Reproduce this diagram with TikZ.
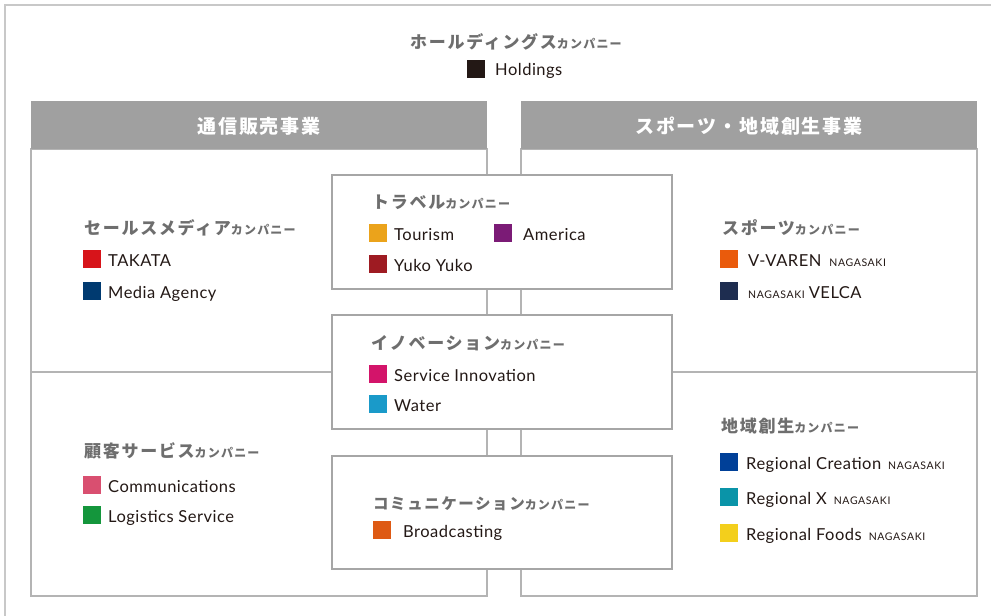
\documentclass[tikz,border=0pt]{standalone}
\usepackage{fontspec}
\setmainfont[LetterSpace=3]{Lato}
\newfontfamily\jp[LetterSpace=10]{Noto Sans CJK JP}
\newfontfamily\ngsfont[LetterSpace=6]{Lato}
\definecolor{framegray}{HTML}{C8C8C8}
\definecolor{panelgray}{HTML}{B4B4B4}
\definecolor{boxgray}{HTML}{A6A6A6}
\definecolor{headgray}{HTML}{A0A0A0}
\definecolor{jpgray}{HTML}{6E6E6E}
\definecolor{txtdark}{HTML}{231815}
\definecolor{cHold}{HTML}{231815}
\definecolor{cTakata}{HTML}{D7141A}
\definecolor{cMedia}{HTML}{003A70}
\definecolor{cTour}{HTML}{EBA31B}
\definecolor{cAmer}{HTML}{7B1B76}
\definecolor{cYuko}{HTML}{9E1B22}
\definecolor{cServ}{HTML}{D3146A}
\definecolor{cWater}{HTML}{1A9AC9}
\definecolor{cBroad}{HTML}{DE5A14}
\definecolor{cVaren}{HTML}{EA5B0C}
\definecolor{cVelca}{HTML}{1E2D50}
\definecolor{cComm}{HTML}{D94F70}
\definecolor{cLogi}{HTML}{14963C}
\definecolor{cRegC}{HTML}{004098}
\definecolor{cRegX}{HTML}{0A94A8}
\definecolor{cRegF}{HTML}{F3CF1C}
\newcommand{\jpt}[1]{{\jp\bfseries\fontsize{17}{20}\selectfont #1}}
\newcommand{\kp}{{\jp\bfseries\fontsize{12}{14}\selectfont カンパニー}}
\newcommand{\ngs}{{\ngsfont\fontsize{10.5}{12}\selectfont NAGASAKI}}
\begin{document}
\begin{tikzpicture}[x=1pt,y=-1pt,
  panel/.style={draw=panelgray, line width=1.5pt},
  cbox/.style={draw=boxgray, line width=2pt, fill=white},
  head/.style={fill=headgray},
  headtxt/.style={text=white, font=\jp\bfseries\fontsize{19}{22}\selectfont},
  sq/.style={minimum size=18pt, inner sep=0pt, outer sep=0pt, anchor=north west},
  lbl/.style={anchor=base west, inner sep=0pt, text=txtdark, font=\fontsize{16.5}{18}\selectfont},
  ttl/.style={anchor=west, inner sep=0pt, text=jpgray}]
\useasboundingbox (0,0) rectangle (991,616);
\fill[white] (0,0) rectangle (991,616);
% outer frame
\draw[framegray, line width=1.5pt] (5,620) -- (5,5) -- (995,5);
% holdings
\node[ttl, anchor=center] (holdT) at (516,42) {\jpt{ホールディングス}\kp};
\node[sq, fill=cHold] (holdS) at (467,60) {};
\node[lbl] (holdL) at (495,75) {Holdings};
% left panel
\draw[panel] (31,149) rectangle (487,596);
\draw[panel] (31,372) -- (487,372);
\fill[head] (31,101) rectangle (487,149);
\node[headtxt] (hL) at (259,126) {通信販売事業};
% right panel
\draw[panel] (521,149) rectangle (977,596);
\draw[panel] (521,372) -- (977,372);
\fill[head] (521,101) rectangle (977,149);
\node[headtxt] (hR) at (749,126) {スポーツ・地域創生事業};
% center boxes
\draw[cbox] (332,175) rectangle (672,289);
\draw[cbox] (332,315) rectangle (672,429);
\draw[cbox] (332,456) rectangle (672,569);
% sales media
\node[ttl] (smT) at (84,228) {\jpt{セールスメディア}\kp};
\node[sq, fill=cTakata] (s1) at (83,250) {};
\node[lbl] (l1) at (108,266) {TAKATA};
\node[sq, fill=cMedia] (s2) at (83,282) {};
\node[lbl] (l2) at (108,298) {Media Agency};
% travel
\node[ttl] (trT) at (372,202) {\jpt{トラベル}\kp};
\node[sq, fill=cTour] (s3) at (369,224) {};
\node[lbl] (l3) at (394,240) {Tourism};
\node[sq, fill=cAmer] (s4) at (494,224) {};
\node[lbl] (l4) at (523,240) {America};
\node[sq, fill=cYuko] (s5) at (369,255) {};
\node[lbl] (l5) at (394,271) {Yuko Yuko};
% innovation
\node[ttl] (inT) at (371,343) {\jpt{イノベーション}\kp};
\node[sq, fill=cServ] (s6) at (369,365) {};
\node[lbl] (l6) at (394,381) {Service Innovation};
\node[sq, fill=cWater] (s7) at (369,395) {};
\node[lbl] (l7) at (394,411) {Water};
% communication
\node[ttl] (coT) at (373,504) {{\jp\bfseries\fontsize{15.5}{20}\selectfont コミュニケーション}\kp};
\node[sq, fill=cBroad] (s8) at (373,521) {};
\node[lbl] (l8) at (403,537) {Broadcasting};
% sports
\node[ttl] (spT) at (722,228) {\jpt{スポーツ}\kp};
\node[sq, fill=cVaren] (s9) at (720,250) {};
\node[lbl] (l9) at (748,266) {V-VAREN\hspace{8pt}\ngs};
\node[sq, fill=cVelca] (s10) at (720,282) {};
\node[lbl] (l10) at (748,298) {\ngs\hspace{4pt}VELCA};
% customer service
\node[ttl] (csT) at (84,451) {\jpt{顧客サービス}\kp};
\node[sq, fill=cComm] (s11) at (83,476) {};
\node[lbl] (l11) at (108,492) {Communications};
\node[sq, fill=cLogi] (s12) at (83,506) {};
\node[lbl] (l12) at (108,522) {Logistics Service};
% regional
\node[ttl] (rgT) at (721,426) {\jpt{地域創生}\kp};
\node[sq, fill=cRegC] (s13) at (720,453) {};
\node[lbl] (l13) at (746,469) {Regional Creation\hspace{7pt}\ngs};
\node[sq, fill=cRegX] (s14) at (720,488) {};
\node[lbl] (l14) at (746,504) {Regional X\hspace{7pt}\ngs};
\node[sq, fill=cRegF] (s15) at (720,524) {};
\node[lbl] (l15) at (746,540) {Regional Foods\hspace{7pt}\ngs};
\end{tikzpicture}
\end{document}
